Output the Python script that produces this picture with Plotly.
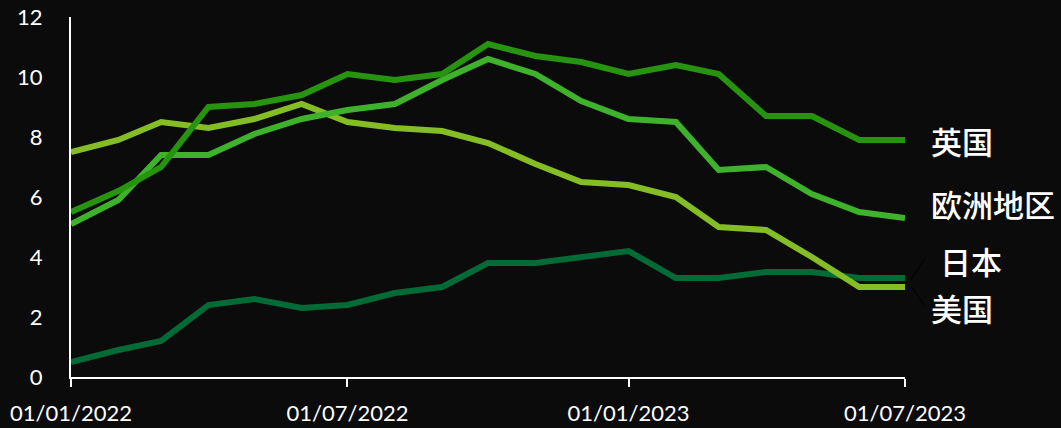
import plotly.graph_objects as go

dates = ["2022-01-01", "2022-02-01", "2022-03-01", "2022-04-01", "2022-05-01", "2022-06-01",
         "2022-07-01", "2022-08-01", "2022-09-01", "2022-10-01", "2022-11-01", "2022-12-01",
         "2023-01-01", "2023-02-01", "2023-03-01", "2023-04-01", "2023-05-01", "2023-06-01",
         "2023-07-01"]

uk = [5.5, 6.2, 7.0, 9.0, 9.1, 9.4, 10.1, 9.9, 10.1, 11.1, 10.7, 10.5, 10.1, 10.4, 10.1, 8.7, 8.7, 7.9, 7.9]
euro = [5.1, 5.9, 7.4, 7.4, 8.1, 8.6, 8.9, 9.1, 9.9, 10.6, 10.1, 9.2, 8.6, 8.5, 6.9, 7.0, 6.1, 5.5, 5.3]
us = [7.5, 7.9, 8.5, 8.3, 8.6, 9.1, 8.5, 8.3, 8.2, 7.8, 7.1, 6.5, 6.4, 6.0, 5.0, 4.9, 4.0, 3.0, 3.0]
japan = [0.5, 0.9, 1.2, 2.4, 2.6, 2.3, 2.4, 2.8, 3.0, 3.8, 3.8, 4.0, 4.2, 3.3, 3.3, 3.5, 3.5, 3.3, 3.3]

series_names = ["英国", "欧洲地区", "日本", "美国"]
series_colors = ["#279410", "#3db22a", "#006b36", "#85be24"]
label_y = [7.9, 5.77, 3.9, 2.33]
label_x_shift = [0, 0, 9, 0]

tick_vals = ["2022-01-01", "2022-07-01", "2023-01-01", "2023-07-01"]
tick_text = ["01/01/2022", "01/07/2022", "01/01/2023", "01/07/2023"]
y_ticks = [0, 2, 4, 6, 8, 10, 12]

fig = go.Figure()
for name, vals, col in [("日本", japan, series_colors[2]), ("美国", us, series_colors[3]),
                        ("欧洲地区", euro, series_colors[1]), ("英国", uk, series_colors[0])]:
    fig.add_trace(go.Scatter(x=dates, y=vals, mode="lines", name=name,
                             line=dict(color=col, width=6), hoverinfo="skip"))

for name, ly, sx in zip(series_names, label_y, label_x_shift):
    fig.add_annotation(x="2023-07-01", y=ly, xref="x", yref="y", text=name, showarrow=False,
                       xanchor="left", yanchor="middle", xshift=24 + sx,
                       font=dict(family="Noto Sans CJK SC", size=31, color="#ffffff", weight=500))

# faint leader lines
fig.add_shape(type="line", xref="paper", yref="y", x0=1.007, x1=1.024, y0=3.25, y1=3.95,
              line=dict(color="#000000", width=1))
fig.add_shape(type="line", xref="paper", yref="y", x0=1.007, x1=1.024, y0=3.05, y1=2.35,
              line=dict(color="#000000", width=1))

fig.update_layout(
    template="none",
    width=1061, height=428,
    margin=dict(l=71, r=156, t=17, b=51, autoexpand=False),
    paper_bgcolor="#0b0b0b", plot_bgcolor="#0b0b0b",
    showlegend=False,
    font=dict(family="Lato", color="#ffffff", size=22),
    xaxis=dict(type="date", range=["2022-01-01", "2023-07-01"], tickvals=tick_vals,
               ticktext=tick_text, showgrid=False, zeroline=False, showline=True,
               automargin=False,
               linecolor="#ffffff", linewidth=2, ticks="outside", ticklen=8, tickwidth=2,
               tickcolor="#ffffff", ticklabelstandoff=8,
               tickfont=dict(size=22, color="#ffffff")),
    yaxis=dict(range=[0, 12], tickvals=y_ticks, showgrid=False, zeroline=False,
               showline=True, linecolor="#ffffff", linewidth=2, ticks="", automargin=False,
               ticklabelstandoff=22, tickfont=dict(size=22, color="#ffffff")),
)

fig.write_html("out.html", config={"displayModeBar": False},
               post_script="document.body.style.margin='0';document.body.style.overflow='hidden';")
